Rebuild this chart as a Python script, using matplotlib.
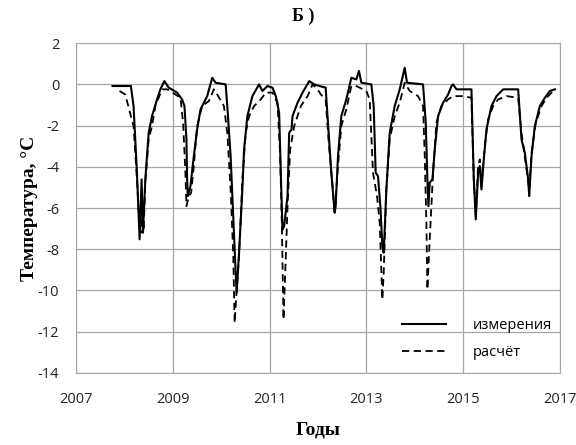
import matplotlib
matplotlib.use("Agg")
import matplotlib.pyplot as plt

plt.rcParams['axes.unicode_minus'] = False

# measured (solid)
meas_year = [2007.754, 2008.134, 2008.189, 2008.259, 2008.314, 2008.355, 2008.383, 2008.432,
             2008.501, 2008.570, 2008.674, 2008.743, 2008.826, 2008.916, 2009.089, 2009.192,
             2009.241, 2009.282, 2009.296, 2009.310, 2009.365, 2009.434, 2009.503, 2009.573,
             2009.711, 2009.815, 2009.884, 2010.092, 2010.126, 2010.195, 2010.264, 2010.299,
             2010.320, 2010.369, 2010.438, 2010.473, 2010.541, 2010.645, 2010.783, 2010.853,
             2010.956, 2011.060, 2011.129, 2011.198, 2011.232, 2011.267, 2011.301, 2011.371,
             2011.405, 2011.454, 2011.474, 2011.578, 2011.682, 2011.820, 2011.924, 2012.034,
             2012.159, 2012.207, 2012.276, 2012.345, 2012.366, 2012.414, 2012.483, 2012.586,
             2012.690, 2012.793, 2012.848, 2012.897, 2013.103, 2013.152, 2013.193, 2013.241,
             2013.290, 2013.331, 2013.359, 2013.414, 2013.483, 2013.586, 2013.690, 2013.793,
             2013.841, 2014.172, 2014.228, 2014.262, 2014.283, 2014.310, 2014.366, 2014.414,
             2014.483, 2014.586, 2014.690, 2014.759, 2014.793, 2014.862, 2015.000, 2015.172,
             2015.221, 2015.262, 2015.310, 2015.345, 2015.379, 2015.428, 2015.483, 2015.586,
             2015.690, 2015.828, 2016.138, 2016.207, 2016.276, 2016.345, 2016.366, 2016.414,
             2016.483, 2016.586, 2016.690, 2016.793, 2016.897]
meas_temp = [-0.08, -0.08, -1.05, -4.29, -7.52, -4.61, -7.20, -4.61,
             -2.35, -1.54, -0.73, -0.24, 0.16, -0.16, -0.40, -0.73,
             -1.05, -2.67, -4.61, -5.42, -4.94, -3.48, -2.18, -1.21,
             -0.57, 0.32, 0.08, 0.0, -1.05, -3.48, -7.20, -9.14,
             -10.11, -8.17, -5.10, -3.16, -1.54, -0.57, 0.0, -0.32,
             -0.08, -0.16, -0.57, -1.38, -4.29, -7.04, -6.88, -5.42,
             -2.35, -2.18, -1.54, -0.89, -0.40, 0.16, 0.0, -0.08,
             -0.16, -1.86, -4.29, -6.23, -5.91, -3.48, -1.54, -0.73,
             0.32, 0.24, 0.65, 0.08, 0.0, -1.05, -4.29, -4.45,
             -5.91, -7.85, -8.17, -5.10, -2.35, -1.05, -0.24, 0.81,
             0.08, 0.0, -1.86, -4.61, -5.91, -4.77, -4.61, -3.16,
             -1.54, -0.89, -0.49, -0.08, 0.0, -0.24, -0.24, -0.24,
             -4.61, -6.55, -4.29, -3.96, -5.10, -3.64, -2.18, -1.05,
             -0.57, -0.24, -0.24, -2.67, -3.32, -4.61, -5.42, -3.48,
             -2.02, -1.05, -0.65, -0.32, -0.24]

# calculated (dashed)
calc_year = [2007.899, 2008.017, 2008.189, 2008.259, 2008.314, 2008.342, 2008.369, 2008.397,
             2008.432, 2008.501, 2008.570, 2008.639, 2008.777, 2008.881, 2009.054, 2009.158,
             2009.213, 2009.261, 2009.282, 2009.331, 2009.379, 2009.434, 2009.503, 2009.607,
             2009.745, 2009.849, 2009.918, 2010.057, 2010.126, 2010.195, 2010.250, 2010.278,
             2010.320, 2010.369, 2010.438, 2010.507, 2010.576, 2010.680, 2010.819, 2010.923,
             2011.060, 2011.163, 2011.219, 2011.253, 2011.288, 2011.336, 2011.371, 2011.426,
             2011.509, 2011.647, 2011.786, 2011.889, 2011.993, 2012.060, 2012.159, 2012.228,
             2012.297, 2012.345, 2012.414, 2012.483, 2012.586, 2012.690, 2012.793, 2013.000,
             2013.069, 2013.138, 2013.221, 2013.276, 2013.331, 2013.359, 2013.414, 2013.483,
             2013.586, 2013.690, 2013.793, 2013.897, 2014.069, 2014.172, 2014.207, 2014.241,
             2014.262, 2014.310, 2014.379, 2014.448, 2014.552, 2014.690, 2014.793, 2015.000,
             2015.172, 2015.221, 2015.262, 2015.310, 2015.345, 2015.379, 2015.448, 2015.517,
             2015.621, 2015.724, 2015.897, 2016.138, 2016.207, 2016.255, 2016.310, 2016.366,
             2016.414, 2016.503, 2016.621, 2016.724, 2016.897]
calc_temp = [-0.32, -0.49, -2.02, -4.61, -6.88, -7.20, -6.23, -7.12,
             -4.77, -2.67, -2.02, -1.05, -0.24, -0.24, -0.49, -0.65,
             -1.86, -4.29, -5.91, -5.42, -5.26, -3.96, -2.02, -1.05,
             -0.81, -0.24, -0.49, -1.05, -2.35, -5.10, -8.33, -11.57,
             -9.95, -8.33, -4.61, -2.35, -1.54, -1.05, -0.73, -0.40,
             -0.40, -0.89, -3.48, -6.72, -11.41, -8.33, -5.91, -3.16,
             -2.02, -1.05, -0.57, 0.0, -0.24, -0.49, -0.73, -2.99,
             -4.77, -6.23, -3.96, -2.02, -1.21, -0.08, -0.08, -0.32,
             -0.73, -4.29, -5.42, -6.72, -10.44, -9.14, -5.10, -2.67,
             -1.54, -0.89, 0.08, -0.32, -0.57, -1.05, -3.48, -6.72,
             -9.95, -7.52, -4.29, -1.86, -1.05, -0.73, -0.57, -0.57,
             -0.65, -4.61, -6.39, -3.96, -3.64, -4.94, -2.99, -1.70,
             -1.05, -0.73, -0.57, -0.65, -2.35, -3.16, -4.13, -5.10,
             -3.32, -1.86, -1.05, -0.65, -0.24]

x_ticks = [2007, 2009, 2011, 2013, 2015, 2017]
y_ticks = [2, 0, -2, -4, -6, -8, -10, -12, -14]

fig = plt.figure(figsize=(5.76, 4.45), dpi=100)
ax = fig.add_axes([0.132, 0.162, 0.840, 0.741])

ax.plot(meas_year, meas_temp, '-', color='black', lw=1.5, label='измерения')
ax.plot(calc_year, calc_temp, color='black', lw=1.3, linestyle=(0, (4, 2.5)), label='расчёт')

ax.set_xlim(2007, 2017)
ax.set_ylim(-14, 2)
ax.set_xticks(x_ticks)
ax.set_yticks(y_ticks)
ax.grid(True, color='#a6a6a6', lw=0.9)
for s in ax.spines.values():
    s.set_color('#a6a6a6')
ax.tick_params(length=0, labelsize=10.5, colors='#222222')
ax.tick_params(axis='x', pad=14)
ax.tick_params(axis='y', pad=12)
for lab in ax.get_xticklabels() + ax.get_yticklabels():
    lab.set_family('Open Sans')

ax.set_xlabel('Годы', family='Liberation Serif', fontweight='bold', fontsize=14, labelpad=10)
ax.set_ylabel('Температура, °С', family='Liberation Serif', fontweight='bold', fontsize=14, labelpad=0)
ax.set_title('Б )', family='Liberation Serif', fontweight='bold', fontsize=13, pad=16, x=0.47)

leg = ax.legend(loc='lower right', frameon=False, handlelength=3.0, handletextpad=1.8,
                prop={'family': 'Open Sans', 'size': 10.5}, bbox_to_anchor=(1.01, 0.0),
                labelspacing=0.8)

fig.savefig('out.png', dpi=100)
